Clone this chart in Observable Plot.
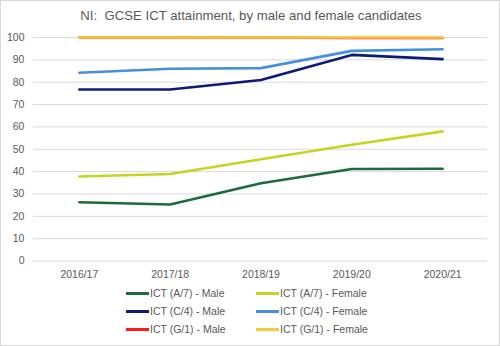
<!DOCTYPE html>
<html><head><meta charset="utf-8">
<script src="https://cdn.jsdelivr.net/npm/d3@7"></script>
<script src="https://cdn.jsdelivr.net/npm/@observablehq/plot@0.6"></script>
<style>
body{margin:0;background:#fff;font-family:"Liberation Sans",Arial,sans-serif;}
#wrap{position:relative;width:498px;height:344px;border:1px solid #d9d9d9;background:#fff;overflow:hidden;}
#title{position:absolute;left:0;top:7px;width:500px;text-align:center;font-size:13.2px;color:#595959;}
#chart{position:absolute;left:-1px;top:26px;}
#legend{position:absolute;left:0;top:0;font-size:10.5px;color:#595959;}
.li{position:absolute;display:flex;align-items:center;white-space:nowrap;}
.sw{width:23px;height:3px;margin-right:1px;}
</style></head>
<body>
<div id="wrap">
<div id="title">NI:&nbsp; GCSE ICT attainment, by male and female candidates</div>
<div id="chart"></div>
<div id="legend"></div>
</div>
<script>
const years = ["2016/17","2017/18","2018/19","2019/20","2020/21"];
const seriesNames = ["ICT (A/7) - Male","ICT (A/7) - Female","ICT (C/4) - Male","ICT (C/4) - Female","ICT (G/1) - Male","ICT (G/1) - Female"];
const a7Male   = [26.3, 25.3, 34.8, 41.2, 41.3];
const a7Female = [37.8, 38.9, 45.5, 52.0, 58.0];
const c4Male   = [76.7, 76.7, 81.0, 92.2, 90.3];
const c4Female = [84.2, 86.0, 86.3, 94.0, 94.7];
const g1Male   = [100, 100, 100, 99.8, 99.8];
const g1Female = [100, 100, 100, 100, 100];
const yTicks = [0,10,20,30,40,50,60,70,80,90,100];
const colors = ["#1d6b3c","#c3d521","#0c1a78","#4590dd","#ff1a1a","#f6c93a"];

const allSeries = [a7Male,a7Female,c4Male,c4Female,g1Male,g1Female];
const data = [];
allSeries.forEach((vals,i)=>vals.forEach((v,j)=>data.push({series:seriesNames[i],year:years[j],value:v})));
const order = [0,1,2,3,4,5];

const plot = Plot.plot({
  width: 500, height: 256,
  marginLeft: 33, marginRight: 12, marginTop: 10, marginBottom: 22,
  style: {fontFamily: '"Liberation Sans",Arial,sans-serif', fontSize: "10.5px", color: "#595959", background:"transparent"},
  x: {type:"point", domain: years, padding: 0.5, label: null},
  y: {domain:[0,100], ticks: yTicks, label: null},
  color: {domain: seriesNames, range: colors},
  marks: [
    Plot.ruleY(yTicks, {stroke:"#d9d9d9", strokeWidth:1}),
    Plot.axisY({ticks: yTicks, tickSize:0, tickPadding:9, label:null, fill:"#595959"}),
    Plot.axisX({tickSize:0, tickPadding:10, label:null, fill:"#595959"}),
    ...order.map(i => Plot.line(data.filter(d=>d.series===seriesNames[i]), {x:"year", y:"value", stroke: colors[i], strokeWidth:2.6, strokeLinejoin:"round", curve:"linear"}))
  ]
});
document.getElementById("chart").appendChild(plot);

const pos = [[125,293],[255,293],[125,311],[255,311],[125,329],[255,329]];
const leg = document.getElementById("legend");
seriesNames.forEach((n,i)=>{
  const d = document.createElement("div");
  d.className="li";
  d.style.left = pos[i][0]+"px"; d.style.top = (pos[i][1]-7)+"px";
  d.innerHTML = `<span class="sw" style="background:${colors[i]}"></span><span>${n}</span>`;
  leg.appendChild(d);
});
</script>
</body></html>
